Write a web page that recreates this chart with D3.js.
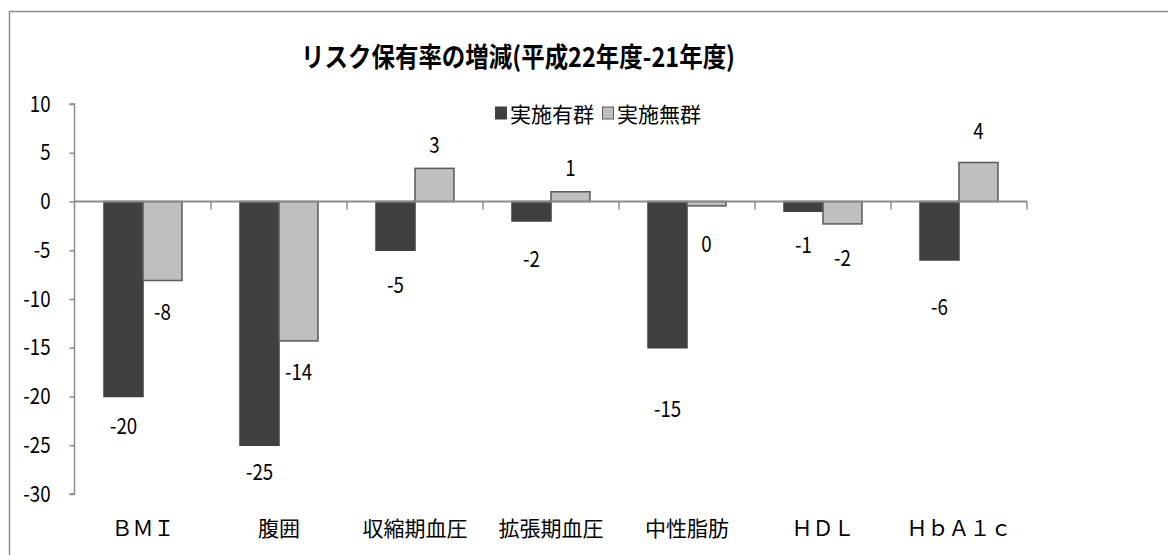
<!DOCTYPE html>
<html lang="ja">
<head>
<meta charset="utf-8">
<script src="https://cdn.jsdelivr.net/npm/d3@7"></script>
<style>
  html, body { margin: 0; padding: 0; background: #fff; }
  svg { display: block; }
  text { font-family: "Noto Sans CJK JP", "Noto Sans", sans-serif; fill: #000; }
</style>
</head>
<body>
<svg id="chart" width="1168" height="555"></svg>
<script>
// Risk prevalence change (FY2010 minus FY2009), by indicator
const categories = ["ＢＭＩ", "腹囲", "収縮期血圧", "拡張期血圧", "中性脂肪", "ＨＤＬ", "ＨｂＡ１ｃ"];
const seriesNames = ["実施有群", "実施無群"];
const withProgram = [-20, -25, -5, -2, -15, -1, -6];
const withoutProgram = [-8.1, -14.3, 3.4, 1.0, -0.45, -2.3, 4.0];
const yTicks = [10, 5, 0, -5, -10, -15, -20, -25, -30];
const titleText = "リスク保有率の増減(平成22年度-21年度)";

// distance (px) from each bar end to the centre of its value label
const labelGap = [
  [28, 25, 33, 36, 60, 32, 45],
  [30, 29, 25, 25, 36, 32, 33]
];

const colors = ["#404040", "#bfbfbf"];
const strokes = ["#404040", "#595959"];
const numberSqueeze = 0.85; // narrow numerals

const svg = d3.select("#chart");

// outer chart frame (top and left edges are visible)
svg.append("path")
  .attr("d", "M9.5,600 V11.5 H1200")
  .attr("fill", "none")
  .attr("stroke", "#8c8c8c")
  .attr("stroke-width", 1.5);

const plot = { left: 75, right: 1027, top: 104, bottom: 494 };

const y = d3.scaleLinear().domain([-30, 10]).range([plot.bottom, plot.top]);

const gapRatio = 58 / 136;
const x = d3.scaleBand()
  .domain(categories)
  .range([plot.left, plot.right])
  .paddingInner(gapRatio)
  .paddingOuter(gapRatio / 2);

const xSub = d3.scaleBand().domain(d3.range(seriesNames.length)).range([0, x.bandwidth()]);

const series = [withProgram, withoutProgram];
const fmt = v => { const r = Math.round(v); return r === 0 ? "0" : String(r); };

// y axis
const yAxis = svg.append("g")
  .attr("transform", `translate(${plot.left - 0.5},0)`)
  .call(d3.axisLeft(y).tickValues(yTicks).tickSize(5).tickPadding(19).tickFormat(d => String(d)));
yAxis.select(".domain").attr("stroke", "#8c8c8c").attr("stroke-width", 1.5)
  .attr("d", `M-5,${y(10)}H0V${y(-30)}H-5`);
yAxis.selectAll(".tick line").attr("stroke", "#8c8c8c").attr("stroke-width", 1.5);
yAxis.selectAll(".tick text")
  .attr("font-family", "Noto Sans CJK JP, sans-serif")
  .attr("font-size", 22)
  .attr("fill", "#000")
  .attr("transform", function () {
    const tx = +d3.select(this).attr("x");
    return `translate(${tx},0) scale(${numberSqueeze},1) translate(${-tx},0)`;
  });

// bars
series.forEach((vals, s) => {
  svg.append("g").selectAll("rect")
    .data(vals.map((v, i) => ({ v, c: categories[i] })))
    .join("rect")
    .attr("x", d => x(d.c) + xSub(s))
    .attr("width", xSub.bandwidth())
    .attr("y", d => Math.min(y(d.v), y(0)))
    .attr("height", d => Math.abs(y(d.v) - y(0)))
    .attr("fill", colors[s])
    .attr("stroke", strokes[s])
    .attr("stroke-width", 1.5);
});

// x axis along zero, with ticks on category boundaries
const boundaries = d3.range(categories.length + 1).map(i => x.range()[0] + i * x.step());
svg.append("line")
  .attr("x1", plot.left - 1).attr("x2", plot.right)
  .attr("y1", y(0)).attr("y2", y(0))
  .attr("stroke", "#8c8c8c").attr("stroke-width", 2);
svg.append("g").selectAll("line")
  .data(boundaries.slice(1))
  .join("line")
  .attr("x1", d => d).attr("x2", d => d)
  .attr("y1", y(0)).attr("y2", y(0) + 8)
  .attr("stroke", "#8c8c8c").attr("stroke-width", 1.5);

// value labels
series.forEach((vals, s) => {
  svg.append("g").selectAll("text")
    .data(vals.map((v, i) => ({ v, i })))
    .join("text")
    .attr("transform", d => {
      const cx = x(categories[d.i]) + xSub(s) + xSub.bandwidth() / 2;
      const cy = y(d.v) + (d.v >= 0 ? -labelGap[s][d.i] : labelGap[s][d.i]);
      return `translate(${cx},${cy}) scale(${numberSqueeze},1)`;
    })
    .attr("text-anchor", "middle")
    .attr("dominant-baseline", "central")
    .attr("font-size", 22)
    .text(d => fmt(d.v));
});

// category labels
svg.append("g").selectAll("text")
  .data(categories)
  .join("text")
  .attr("x", d => x(d) + x.bandwidth() / 2)
  .attr("y", 536)
  .attr("text-anchor", "middle")
  .attr("font-size", 21)
  .text(d => d);

// title
svg.append("text")
  .attr("x", 518)
  .attr("y", 67)
  .attr("text-anchor", "middle")
  .attr("font-size", 27)
  .attr("font-weight", "bold")
  .attr("textLength", 434)
  .attr("lengthAdjust", "spacingAndGlyphs")
  .text(titleText);

// legend
const legend = svg.append("g").attr("transform", "translate(495,113)");
let lx = 0;
seriesNames.forEach((name, s) => {
  legend.append("rect")
    .attr("x", lx + 0.5).attr("y", -6)
    .attr("width", 11).attr("height", 12)
    .attr("fill", colors[s])
    .attr("stroke", strokes[s]).attr("stroke-width", 1);
  const t = legend.append("text")
    .attr("x", lx + 15)
    .attr("y", 0)
    .attr("dominant-baseline", "central")
    .attr("font-size", 21)
    .text(name);
  lx += 15 + t.node().getComputedTextLength() + 8;
});
</script>
</body>
</html>
